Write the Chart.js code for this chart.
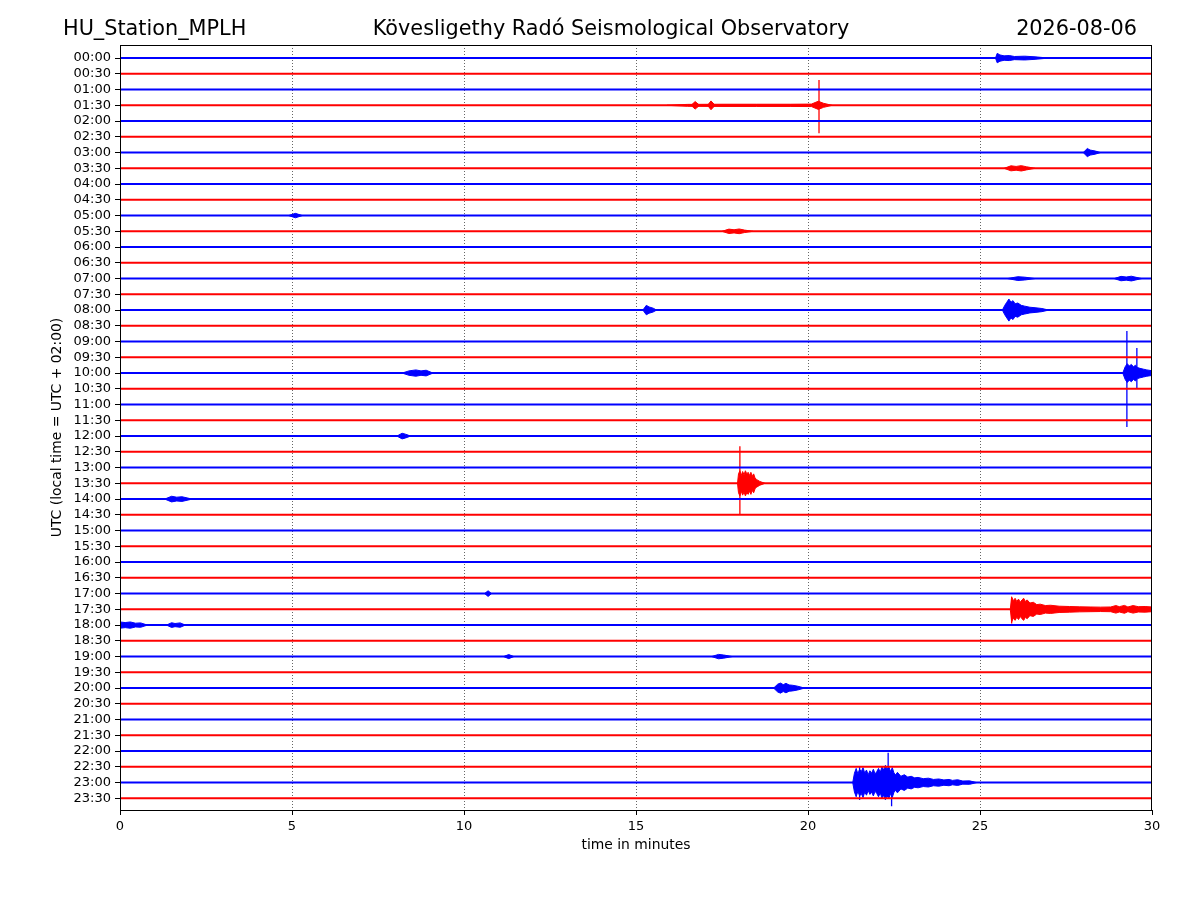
<!DOCTYPE html>
<html>
<head>
<meta charset="utf-8">
<script src="https://cdn.jsdelivr.net/npm/chart.js@4.4.1/dist/chart.umd.min.js"></script>
<style>
  body { margin: 0; background: #fff; }
  canvas { display: block; }
</style>
</head>
<body>
<canvas id="heli" width="1200" height="900"></canvas>
<script>
// one row per half hour, 00:00 on top
const rowLabels = [
  '00:00','00:30','01:00','01:30','02:00','02:30','03:00','03:30',
  '04:00','04:30','05:00','05:30','06:00','06:30','07:00','07:30',
  '08:00','08:30','09:00','09:30','10:00','10:30','11:00','11:30',
  '12:00','12:30','13:00','13:30','14:00','14:30','15:00','15:30',
  '16:00','16:30','17:00','17:30','18:00','18:30','19:00','19:30',
  '20:00','20:30','21:00','21:30','22:00','22:30','23:00','23:30'
];
const xTicks = [0, 5, 10, 15, 20, 25, 30];
const traceColors = ['#0000ff', '#ff0000']; // full hours blue, half hours red

// bursts: row, times (minutes) and half-amplitude of the envelope (in row heights)
const eventRows = [0, 3, 3, 3, 6, 7, 10, 11, 14, 14, 16, 16, 20, 20, 24, 27, 28, 34, 35, 36, 36, 38, 38, 40, 46];
const eventTimes = [
  [25.45, 25.5, 25.58, 25.7, 25.85, 26.0, 26.3, 26.6, 27.0],
  [15.9, 16.5, 17.5, 18.5, 19.5, 20.1, 20.3, 20.45, 20.7],
  [16.6, 16.72, 16.85],
  [17.08, 17.18, 17.3],
  [28.0, 28.12, 28.2, 28.35, 28.5],
  [25.7, 25.9, 26.05, 26.2, 26.35, 26.6],
  [4.9, 5.1, 5.3],
  [17.5, 17.7, 17.85, 18.0, 18.15, 18.4],
  [25.8, 26.1, 26.3, 26.6],
  [28.9, 29.1, 29.25, 29.4, 29.7],
  [15.2, 15.3, 15.38, 15.5, 15.6],
  [25.65, 25.72, 25.78, 25.84, 25.9, 25.96, 26.02, 26.1, 26.2, 26.3, 26.45, 26.6, 26.8, 27.0],
  [8.2, 8.4, 8.6, 8.75, 8.9, 9.1],
  [29.15, 29.22, 29.28, 29.34, 29.4, 29.46, 29.52, 29.58, 29.65, 29.75, 29.85, 30],
  [8.05, 8.2, 8.3, 8.45],
  [17.95, 17.98, 18.02, 18.06, 18.1, 18.14, 18.18, 18.22, 18.26, 18.3, 18.34, 18.38, 18.42, 18.46, 18.5, 18.6, 18.75],
  [1.3, 1.5, 1.65, 1.8, 2.1],
  [10.6, 10.7, 10.8],
  [25.88, 25.92, 25.97, 26.02, 26.07, 26.12, 26.17, 26.22, 26.27, 26.32, 26.37, 26.45, 26.55, 26.65, 26.75, 26.9,
   27.05, 27.3, 27.6, 27.9, 28.2, 28.5, 28.8, 28.95, 29.05, 29.2, 29.3, 29.45, 29.6, 29.8, 30],
  [0, 0.15, 0.3, 0.45, 0.6, 0.8],
  [1.35, 1.5, 1.6, 1.75, 1.9],
  [11.15, 11.3, 11.45],
  [17.2, 17.4, 17.55, 17.8],
  [19.0, 19.12, 19.2, 19.28, 19.36, 19.45, 19.55, 19.7, 19.9],
  [21.3, 21.35, 21.4, 21.45, 21.5, 21.55, 21.6, 21.65, 21.7, 21.75, 21.8, 21.85, 21.9, 21.95, 22.0, 22.05,
   22.1, 22.15, 22.2, 22.25, 22.3, 22.35, 22.4, 22.45, 22.5, 22.55, 22.6, 22.7, 22.8, 22.9, 23.0, 23.1,
   23.2, 23.35, 23.5, 23.65, 23.8, 23.95, 24.1, 24.2, 24.35, 24.5, 24.7, 24.9]
];
const eventAmps = [
  [0, 0.3, 0.2, 0.14, 0.16, 0.1, 0.12, 0.08, 0],
  [0, 0.06, 0.07, 0.07, 0.07, 0.08, 0.26, 0.13, 0],
  [0, 0.24, 0],
  [0, 0.28, 0],
  [0, 0.26, 0.16, 0.1, 0],
  [0, 0.16, 0.12, 0.17, 0.1, 0],
  [0, 0.14, 0],
  [0, 0.14, 0.1, 0.15, 0.08, 0],
  [0, 0.12, 0.09, 0],
  [0, 0.14, 0.1, 0.15, 0],
  [0, 0.3, 0.2, 0.12, 0],
  [0, 0.3, 0.5, 0.7, 0.5, 0.6, 0.4, 0.45, 0.3, 0.25, 0.18, 0.15, 0.1, 0],
  [0, 0.14, 0.2, 0.14, 0.18, 0],
  [0, 0.4, 0.6, 0.45, 0.55, 0.4, 0.5, 0.35, 0.3, 0.25, 0.2, 0.15],
  [0, 0.18, 0.12, 0],
  [0, 0.6, 0.8, 0.5, 0.75, 0.55, 0.8, 0.6, 0.7, 0.5, 0.7, 0.45, 0.6, 0.35, 0.25, 0.12, 0],
  [0, 0.18, 0.12, 0.15, 0],
  [0, 0.18, 0],
  [0, 0.8, 0.55, 0.7, 0.5, 0.65, 0.45, 0.6, 0.7, 0.5, 0.6, 0.4, 0.45, 0.3, 0.33, 0.24,
   0.26, 0.2, 0.18, 0.16, 0.15, 0.14, 0.15, 0.24, 0.17, 0.25, 0.15, 0.24, 0.17, 0.18, 0.15],
  [0.2, 0.16, 0.2, 0.12, 0.14, 0],
  [0, 0.15, 0.1, 0.14, 0],
  [0, 0.13, 0],
  [0, 0.14, 0.1, 0],
  [0, 0.25, 0.32, 0.22, 0.3, 0.2, 0.18, 0.12, 0],
  [0, 0.6, 0.9, 0.55, 0.85, 0.7, 0.95, 0.6, 0.8, 0.5, 0.75, 0.6, 0.85, 0.55, 0.7, 0.9,
   0.65, 1.0, 0.8, 1.1, 0.85, 1.0, 0.7, 0.95, 0.6, 0.5, 0.65, 0.4, 0.5, 0.35, 0.4, 0.3,
   0.33, 0.25, 0.28, 0.2, 0.23, 0.17, 0.2, 0.14, 0.18, 0.1, 0.11, 0]
];

// single sharp arrivals: row, time, reach above and below the trace (row heights)
const spikeRows = [3, 20, 20, 27, 35, 46, 46, 46];
const spikeTimes = [20.32, 29.27, 29.56, 18.02, 25.92, 21.5, 22.33, 22.43];
const spikeUp = [1.6, 2.67, 1.6, 2.35, 0.7, 1.0, 1.9, 0.8];
const spikeDown = [1.77, 3.43, 0.95, 1.97, 0.9, 1.1, 0.9, 1.5];

const datasets = [];

rowLabels.forEach((lab, i) => {
  datasets.push({
    data: [{x: 0, y: i}, {x: 30, y: i}],
    borderColor: traceColors[i % 2],
    borderWidth: 2
  });
});

eventRows.forEach((row, k) => {
  const col = traceColors[row % 2];
  datasets.push({
    data: eventTimes[k].map((t, j) => ({x: t, y: row - eventAmps[k][j]})),
    borderColor: col, backgroundColor: col, borderWidth: 1, fill: '+1'
  });
  datasets.push({
    data: eventTimes[k].map((t, j) => ({x: t, y: row + eventAmps[k][j]})),
    borderColor: col, borderWidth: 1, fill: false
  });
});

spikeRows.forEach((row, k) => {
  datasets.push({
    data: [{x: spikeTimes[k], y: row - spikeUp[k]}, {x: spikeTimes[k], y: row + spikeDown[k]}],
    borderColor: traceColors[row % 2],
    borderWidth: 1.3
  });
});

// header texts, axis titles and the box round the plot
const textPlugin = {
  id: 'heliText',
  afterDraw(chart) {
    const ctx = chart.ctx;
    const a = chart.chartArea;
    ctx.save();
    ctx.strokeStyle = '#000';
    ctx.lineWidth = 1;
    ctx.strokeRect(a.left + 0.5, a.top + 0.5, a.right - a.left - 1, a.bottom - a.top);

    ctx.fillStyle = '#000';
    ctx.textBaseline = 'alphabetic';
    ctx.font = '20.8px "DejaVu Sans"';
    ctx.textAlign = 'left';
    ctx.fillText('HU_Station_MPLH', 63, 35);
    ctx.textAlign = 'center';
    ctx.fillText('Kövesligethy Radó Seismological Observatory', 611, 35);
    ctx.textAlign = 'right';
    ctx.fillText('2026-08-06', 1137, 35);

    ctx.font = '13.9px "DejaVu Sans"';
    ctx.textAlign = 'center';
    ctx.textBaseline = 'middle';
    ctx.fillText('time in minutes', (a.left + a.right) / 2, 845);
    ctx.translate(57, (a.top + a.bottom) / 2);
    ctx.rotate(-Math.PI / 2);
    ctx.fillText('UTC (local time = UTC + 02:00)', 0, 0);
    ctx.restore();
  }
};

Chart.defaults.font.family = '"DejaVu Sans"';
Chart.defaults.font.size = 13;
Chart.defaults.color = '#000';

new Chart('heli', {
  type: 'line',
  data: { datasets: datasets },
  options: {
    responsive: false,
    animation: false,
    devicePixelRatio: 1,
    parsing: false,
    elements: { point: { radius: 0, hoverRadius: 0 }, line: { tension: 0 } },
    layout: { padding: { left: 50, top: 45, right: 48, bottom: 50 } },
    plugins: { legend: { display: false }, tooltip: { enabled: false } },
    events: [],
    scales: {
      x: {
        type: 'linear',
        min: 0, max: 30,
        afterFit: s => { s.height = 40; },
        afterBuildTicks: s => { s.ticks = xTicks.map(v => ({value: v})); },
        ticks: { padding: 4, maxRotation: 0 },
        grid: {
          color: c => (c.tick && (c.tick.value === 0 || c.tick.value === 30)) ? 'rgba(0,0,0,0)' : 'rgba(0,0,0,0.6)',
          lineWidth: 1,
          tickColor: '#000',
          tickLength: 5,
          tickBorderDash: []
        },
        border: { display: false, dash: [1, 2] }
      },
      y: {
        type: 'linear',
        reverse: true,
        min: -0.83, max: 47.74,
        afterFit: s => { s.width = 70; },
        afterBuildTicks: s => { s.ticks = rowLabels.map((l, i) => ({value: i})); },
        ticks: { padding: 4, autoSkip: false, callback: v => rowLabels[v] },
        grid: { drawOnChartArea: false, tickColor: '#000', tickLength: 5 },
        border: { display: false }
      }
    }
  },
  plugins: [textPlugin]
});
</script>
</body>
</html>
